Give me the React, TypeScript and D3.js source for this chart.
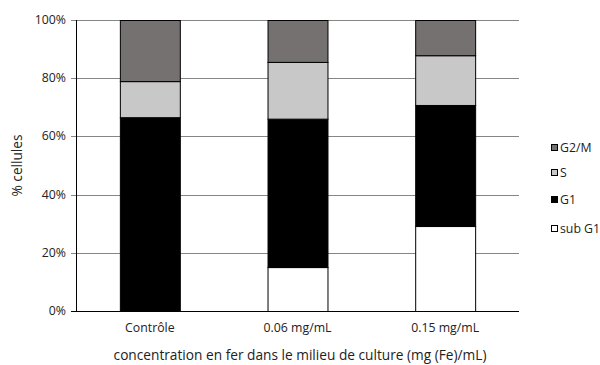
import React from "react";
import * as d3 from "d3";

const categories = ["Contrôle", "0.06 mg/mL", "0.15 mg/mL"];
const seriesNames = ["sub G1", "G1", "S", "G2/M"];
const subG1 = [0, 15.1, 29.2];
const G1 = [66.6, 51.0, 41.6];
const S = [12.4, 19.5, 17.1];
const G2M = [21.0, 14.4, 12.1];
const yTicks = [0, 20, 40, 60, 80, 100];
const colors = ["#ffffff", "#000000", "#c8c8c8", "#767171"];

const W = 600, H = 365;
const left = 76, right = 519, top = 20, bottom = 311;
const font = "'Open Sans', sans-serif";

export default function App() {
  const x = d3.scaleBand<string>().domain(categories).range([left, right]).paddingInner(0.594).paddingOuter(0.297);
  const y = d3.scaleLinear().domain([0, 100]).range([bottom, top]);
  const table = categories.map((c, i) => ({ cat: c, "sub G1": subG1[i], G1: G1[i], S: S[i], "G2/M": G2M[i] }));
  const stacked = d3.stack<any>().keys(seriesNames)(table);
  const legendOrder = ["G2/M", "S", "G1", "sub G1"];
  const legendY = [148, 173, 200, 229];
  return (
    <svg width={W} height={H} style={{ position: "absolute", left: 0, top: 0 }} fontFamily={font}>
      <rect width={W} height={H} fill="#fff" />
      {yTicks.map((t) => (
        <g key={t}>
          <line x1={left - 5} x2={right} y1={Math.round(y(t)) + 0.5} y2={Math.round(y(t)) + 0.5} stroke={t === 0 ? "#000" : "#868686"} strokeWidth={1} />
          <text x={66} y={y(t) + 4} textAnchor="end" fontSize={12.3} fill="#222">{t}%</text>
        </g>
      ))}
      <line x1={left + 0.5} x2={left + 0.5} y1={top} y2={bottom} stroke="#000" />
      {stacked.map((s, si) => (
        <g key={s.key}>
          {s.map((d, i) => (d[1] - d[0] > 0 ? (
            <rect key={i} x={x(categories[i])! + 0.5} width={x.bandwidth()} y={y(d[1]) + 0.5} height={y(d[0]) - y(d[1])}
              fill={colors[si]} stroke="#000" strokeWidth={1} />
          ) : null))}
        </g>
      ))}
      {categories.map((c) => (
        <text key={c} x={x(c)! + x.bandwidth() / 2} y={332} textAnchor="middle" fontSize={12.3} fill="#222">{c}</text>
      ))}
      <text x={300} y={360} textAnchor="middle" fontSize={13.7} fill="#222">concentration en fer dans le milieu de culture (mg (Fe)/mL)</text>
      <text transform={`translate(22,${(top + bottom) / 2}) rotate(-90)`} textAnchor="middle" fontSize={13.7} fill="#222">% cellules</text>
      {legendOrder.map((k, i) => (
        <g key={k}>
          <rect x={551.5} y={legendY[i] - 3.5} width={6} height={6} fill={colors[seriesNames.indexOf(k)]} stroke="#000" />
          <text x={560} y={legendY[i] + 4} fontSize={12.3} fill="#222">{k}</text>
        </g>
      ))}
    </svg>
  );
}
